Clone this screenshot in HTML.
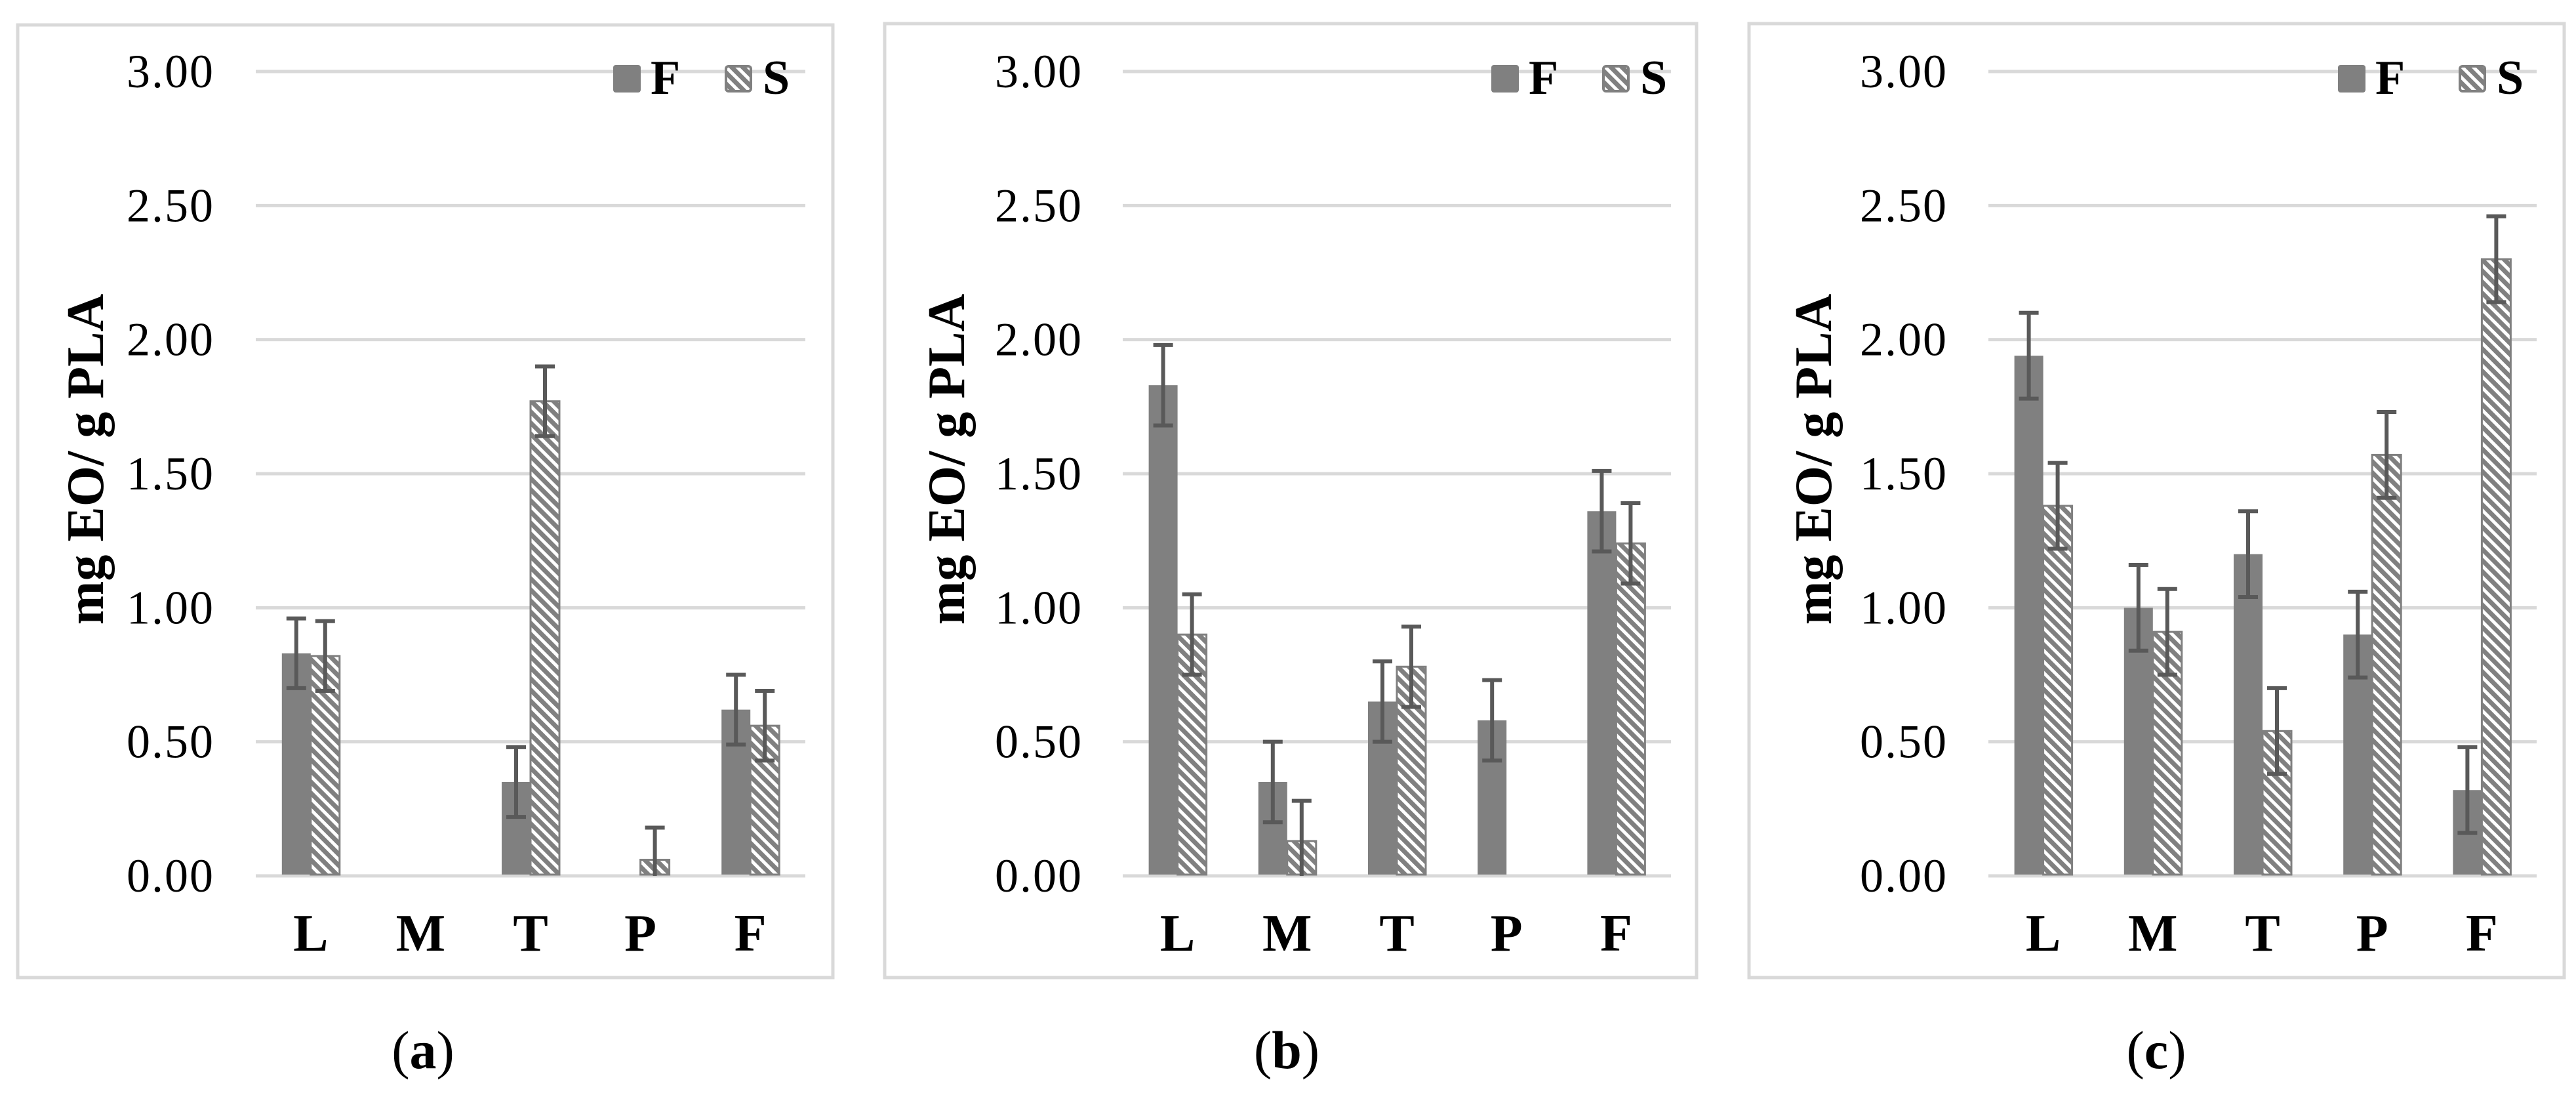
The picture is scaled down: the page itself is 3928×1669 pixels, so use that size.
<!DOCTYPE html>
<html><head><meta charset="utf-8">
<style>
html,body{margin:0;padding:0;background:#fff;}
svg{display:block;font-family:"Liberation Serif","Times New Roman",serif;}
</style></head>
<body>
<svg id="fig" width="3928" height="1669" viewBox="0 0 3928 1669" xmlns="http://www.w3.org/2000/svg">
<defs>
<pattern id="hatch" patternUnits="userSpaceOnUse" width="12" height="12" patternTransform="rotate(-45)">
<rect width="12" height="12" fill="#808080"/>
<rect x="0" y="0" width="5" height="12" fill="#ffffff"/>
</pattern>
</defs>
</svg>
<script>
const categories = ["L","M","T","P","F"];
const seriesNames = ["F","S"];
const tickLabels = ["0.00","0.50","1.00","1.50","2.00","2.50","3.00"];
const tickValues = [0,0.5,1,1.5,2,2.5,3];
const panelLabels = ["a","b","c"];
const aF = [0.83,0,0.35,0,0.62];
const aS = [0.82,0,1.77,0.06,0.56];
const aFerr = [0.13,0,0.13,0,0.13];
const aSerr = [0.13,0,0.13,0.12,0.13];
const bF = [1.83,0.35,0.65,0.58,1.36];
const bS = [0.90,0.13,0.78,0,1.24];
const bFerr = [0.15,0.15,0.15,0.15,0.15];
const bSerr = [0.15,0.15,0.15,0,0.15];
const cF = [1.94,1.00,1.20,0.90,0.32];
const cS = [1.38,0.91,0.54,1.57,2.30];
const cFerr = [0.16,0.16,0.16,0.16,0.16];
const cSerr = [0.16,0.16,0.16,0.16,0.16];

const NS="http://www.w3.org/2000/svg";
const svg=document.getElementById('fig');
function mk(tag,attrs,parent){const e=document.createElementNS(NS,tag);for(const k in attrs)e.setAttribute(k,attrs[k]);(parent||svg).appendChild(e);return e;}

const layouts=[
 {box:[27,38,1243,1452],x0:390,x1:1228,tickX:327,titleX:130,legF:935,legS:1105,capX:645},
 {box:[1349,36,1238,1454],x0:1712,x1:2548,tickX:1651,titleX:1443,legF:2274,legS:2443,capX:1962},
 {box:[2667,36,1243,1454],x0:3032,x1:3868,tickX:2970,titleX:2765,legF:3565,legS:3749,capX:3288}
];
const data=[[aF,aS,aFerr,aSerr],[bF,bS,bFerr,bSerr],[cF,cS,cFerr,cSerr]];
const Y0=1335,Y3=109;

layouts.forEach((L,pi)=>{
 const g=mk('g',{});
 
 
 const yS=v=>Y0-(v/3)*(Y0-Y3);
 const cw=(L.x1-L.x0)/categories.length;
 const bw=44;
 const fr=mk('rect',{x:L.box[0],y:L.box[1],width:L.box[2],height:L.box[3],fill:'none',stroke:'#d9d9d9','stroke-width':5},g);
 
 
 tickValues.forEach((v,i)=>{
  const ln=mk('line',{x1:L.x0,x2:L.x1,y1:yS(v),y2:yS(v),stroke:'#d9d9d9','stroke-width':5},g);
  
  
  const t=mk('text',{x:L.tickX,y:yS(v)+24,'text-anchor':'end','font-size':72,fill:'#000','letter-spacing':2},g);
  t.textContent=tickLabels[i];
  
  
 });
 const [F,S,Fe,Se]=data[pi];
 categories.forEach((c,i)=>{
  const cx=L.x0+cw*(i+0.5);
  [[F,Fe,'F'],[S,Se,'S']].forEach((s,si)=>{
   const v=s[0][i], e=s[1][i];
   const x=si===0?cx-bw:cx;
   if(v>0){
    const r=mk('rect',{x:x,y:yS(v),width:bw,height:Y0-yS(v)-2,fill:si===0?'#808080':'url(#hatch)',stroke:si===0?'none':'#808080','stroke-width':3},g);
    
    
   }
   if(v>0&&e>0){
    const ex=x+bw/2;
    const top=yS(v+e), bot=yS(Math.max(0,v-e));
    const eg=mk('g',{stroke:'#595959','stroke-width':6},g);
    
    
    mk('line',{x1:ex,x2:ex,y1:top,y2:bot},eg);
    mk('line',{x1:ex-15,x2:ex+15,y1:top,y2:top},eg);
    if(v-e>0)mk('line',{x1:ex-15,x2:ex+15,y1:bot,y2:bot},eg);
   }
  });
  const xl=mk('text',{x:cx,y:1449,'text-anchor':'middle','font-size':80,'font-weight':'bold',fill:'#000'},g);
  xl.textContent=c;
  
  
 });
 const tt=mk('text',{x:0,y:0,'text-anchor':'middle','font-size':80,'font-weight':'bold',fill:'#000',transform:`translate(${L.titleX+27},700) rotate(-90)`},g);
 tt.textContent='mg EO/ g PLA';
 
 
 const lf=mk('rect',{x:L.legF,y:99,width:42,height:42,rx:4,fill:'#808080'},g);
 
 
 const lft=mk('text',{x:L.legF+57,y:143,'font-size':74,'font-weight':'bold',fill:'#000'},g);
 lft.textContent=seriesNames[0];
 
 
 const ls=mk('rect',{x:L.legS+2,y:101,width:38,height:38,rx:4,fill:'url(#hatch)',stroke:'#808080','stroke-width':4},g);
 
 
 const lst=mk('text',{x:L.legS+58,y:143,'font-size':74,'font-weight':'bold',fill:'#000'},g);
 lst.textContent=seriesNames[1];
 
 
 const cap=mk('text',{x:L.capX,y:1628,'text-anchor':'middle','font-size':82,fill:'#000'},g);
 
 
 const t1=mk('tspan',{},cap);t1.textContent='(';
 const t2=mk('tspan',{'font-weight':'bold'},cap);t2.textContent=panelLabels[pi];
 const t3=mk('tspan',{},cap);t3.textContent=')';
});
</script>
</body></html>
